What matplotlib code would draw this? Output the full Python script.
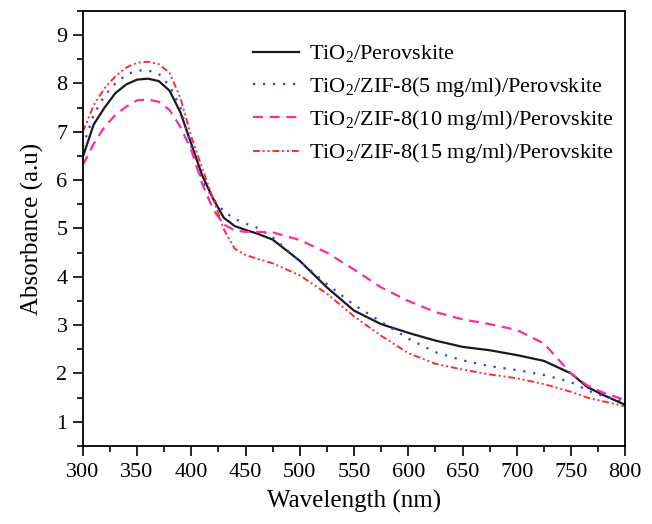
import matplotlib.pyplot as plt
from matplotlib.ticker import MultipleLocator

plt.rcParams['font.family'] = ['Liberation Serif', 'DejaVu Serif']
plt.rcParams['mathtext.fontset'] = 'custom'
plt.rcParams['mathtext.rm'] = 'Liberation Serif'

wavelength = [300, 310, 320, 330, 340, 350, 360, 370, 380, 390, 400, 410, 420, 430,
              440, 450, 460, 475, 500, 525, 550, 575, 600, 625, 650, 675, 700, 725,
              750, 765, 780, 800]

tio2 = [6.48, 7.15, 7.5, 7.8, 7.98, 8.08, 8.1, 8.05, 7.85, 7.4, 6.75, 6.1, 5.62, 5.22,
        5.05, 4.97, 4.9, 4.77, 4.33, 3.78, 3.3, 3.02, 2.84, 2.68, 2.55, 2.48, 2.38, 2.26,
        2.0, 1.72, 1.55, 1.35]
zif5 = [6.69, 7.35, 7.75, 8.0, 8.18, 8.27, 8.27, 8.2, 7.95, 7.5, 6.7, 5.98, 5.62, 5.35,
        5.2, 5.1, 5.02, 4.82, 4.32, 3.85, 3.42, 3.07, 2.72, 2.44, 2.27, 2.15, 2.07, 1.97,
        1.82, 1.65, 1.53, 1.42]
zif10 = [6.31, 6.75, 7.1, 7.35, 7.52, 7.65, 7.67, 7.62, 7.45, 7.1, 6.62, 5.93, 5.4, 5.08,
         4.96, 4.93, 4.93, 4.92, 4.76, 4.5, 4.15, 3.78, 3.5, 3.27, 3.12, 3.02, 2.9, 2.62,
         2.0, 1.75, 1.6, 1.45]
zif15 = [7.0, 7.55, 7.9, 8.15, 8.33, 8.43, 8.45, 8.4, 8.22, 7.7, 6.9, 6.25, 5.62, 4.98,
         4.58, 4.45, 4.38, 4.28, 4.03, 3.65, 3.18, 2.78, 2.42, 2.2, 2.08, 1.98, 1.9, 1.78,
         1.62, 1.5, 1.42, 1.32]

labels = [r'TiO$_2$/Perovskite',
          r'TiO$_2$/ZIF-8(5 mg/ml)/Perovskite',
          r'TiO$_2$/ZIF-8(10 mg/ml)/Perovskite',
          r'TiO$_2$/ZIF-8(15 mg/ml)/Perovskite']

fig = plt.figure(figsize=(6.52, 5.24), dpi=100)
ax = fig.add_axes([0.127, 0.149, 0.832, 0.830])

ax.plot(wavelength, tio2, color='#1a1a1a', lw=1.6, label=labels[0])
ax.plot(wavelength, zif5, color='#3a3aff', lw=1.6, dashes=(1, 3.5), label=labels[1])
ax.plot(wavelength, zif10, color='#ff2d9a', lw=1.6, dashes=(4.5, 3), label=labels[2])
ax.plot(wavelength, zif15, color='#ff2a2a', lw=1.4, dashes=(3.5, 1.5, 1, 1.5, 1, 1.5), label=labels[3])

ax.set_xlim(300, 800)
ax.set_ylim(0.5, 9.5)
ax.xaxis.set_major_locator(MultipleLocator(50))
ax.xaxis.set_minor_locator(MultipleLocator(25))
ax.yaxis.set_major_locator(MultipleLocator(1))
ax.yaxis.set_minor_locator(MultipleLocator(0.5))
ax.tick_params(which='major', direction='out', length=7, width=1.2, labelsize=16)
ax.tick_params(which='minor', direction='out', length=4.5, width=1.2)
ax.tick_params(axis='x', pad=5)
ax.tick_params(axis='y', pad=4)
for s in ax.spines.values():
    s.set_linewidth(1.3)

ax.set_xlabel('Wavelength (nm)', fontsize=18, labelpad=6)
ax.set_ylabel('Absorbance (a.u)', fontsize=18, labelpad=9)

ax.legend(loc='upper left', bbox_to_anchor=(0.297, 0.945), frameon=False,
          fontsize=16, handlelength=2.1, handletextpad=0.45, labelspacing=0.42,
          borderaxespad=0)

fig.savefig('out.png', dpi=100)
